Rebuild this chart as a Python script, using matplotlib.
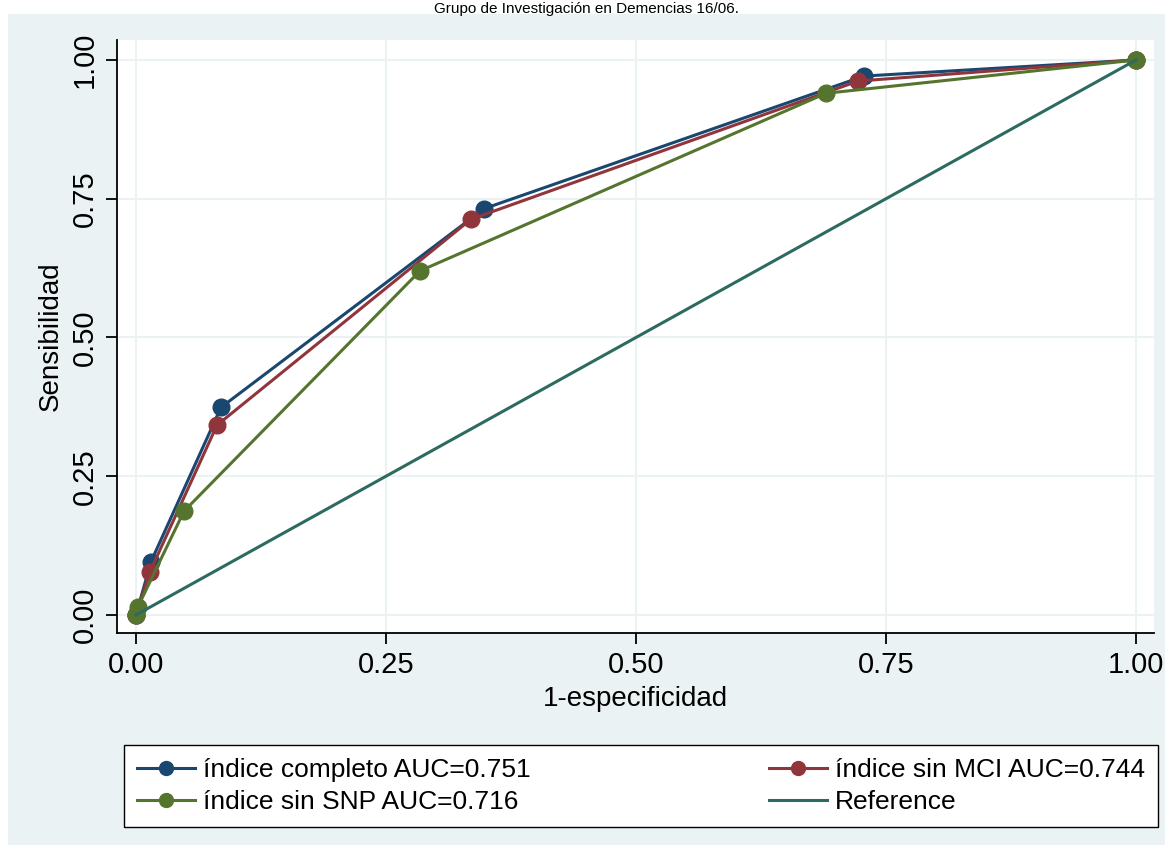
import matplotlib
matplotlib.use("Agg")
import matplotlib.pyplot as plt
from matplotlib.patches import Rectangle

plt.rcParams['font.family'] = ['Liberation Sans', 'DejaVu Sans']

# ROC points
completo_x = [0.0, 0.015, 0.085, 0.348, 0.728, 1.0]
completo_y = [0.0, 0.096, 0.374, 0.732, 0.971, 1.0]
sin_mci_x = [0.0, 0.014, 0.081, 0.335, 0.722, 1.0]
sin_mci_y = [0.0, 0.078, 0.342, 0.713, 0.962, 1.0]
sin_snp_x = [0.0, 0.002, 0.048, 0.284, 0.690, 1.0]
sin_snp_y = [0.0, 0.015, 0.187, 0.620, 0.940, 1.0]
ref_x = [0.0, 1.0]
ref_y = [0.0, 1.0]

labels = ['índice completo AUC=0.751', 'índice sin MCI AUC=0.744',
          'índice sin SNP AUC=0.716', 'Reference']
ticks = [0.0, 0.25, 0.5, 0.75, 1.0]
tick_labels = ['0.00', '0.25', '0.50', '0.75', '1.00']

navy = '#1a476f'
maroon = '#90353b'
green = '#55752f'
teal = '#2d6a5f'
bg = '#eaf2f3'

fig = plt.figure(figsize=(11.72, 8.6), dpi=100)
fig.patch.set_facecolor('white')
fig.patches.append(Rectangle((8 / 1172, 15 / 860), 1157 / 1172, 831 / 860,
                             transform=fig.transFigure, facecolor=bg,
                             edgecolor='none', zorder=-10))

fig.text(0.5, 1 - 2 / 860, 'Grupo de Investigación en Demencias 16/06.',
         ha='center', va='top', fontsize=11)

ax = fig.add_axes([117 / 1172, (860 - 633) / 860, (1154 - 117) / 1172, (633 - 40) / 860])
ax.set_facecolor('white')

lw = 2.2
ms = 12
ax.plot(completo_x, completo_y, color=navy, lw=lw, marker='o', ms=ms, zorder=3)
ax.plot(sin_mci_x, sin_mci_y, color=maroon, lw=lw, marker='o', ms=ms, zorder=4)
ax.plot(sin_snp_x, sin_snp_y, color=green, lw=lw, marker='o', ms=ms, zorder=5)
ax.plot(ref_x, ref_y, color=teal, lw=lw, zorder=6)

ax.set_xlim(-0.019, 1.018)
ax.set_ylim(-0.0325, 1.036)
ax.set_xticks(ticks)
ax.set_xticklabels(tick_labels)
ax.set_yticks(ticks)
ax.set_yticklabels(tick_labels, rotation=90, va='center')
ax.grid(True, color=bg, lw=1.5)
ax.set_axisbelow(True)
for s in ['top', 'right']:
    ax.spines[s].set_visible(False)
for s in ['left', 'bottom']:
    ax.spines[s].set_linewidth(1.3)
ax.tick_params(direction='out', length=8, width=1.3, labelsize=21, pad=5)
ax.set_xlabel('1-especificidad', fontsize=20, labelpad=5)
ax.set_ylabel('Sensibilidad', fontsize=20, labelpad=5)

leg_handles = [plt.Line2D([], [], color=navy, lw=lw, marker='o', ms=10),
               plt.Line2D([], [], color=green, lw=lw, marker='o', ms=10),
               plt.Line2D([], [], color=maroon, lw=lw, marker='o', ms=10),
               plt.Line2D([], [], color=teal, lw=lw)]
leg_labels = [labels[0], labels[2], labels[1], labels[3]]
leg = fig.legend(leg_handles, leg_labels, ncol=2, loc='lower left',
                 bbox_to_anchor=(124 / 1172, 33 / 860, 1034 / 1172, 97 / 860),
                 mode='expand', fancybox=False, edgecolor='black', framealpha=1,
                 fontsize=19, handlelength=2.2, numpoints=1, borderpad=0.5,
                 labelspacing=0.3, handletextpad=0.3, borderaxespad=0)
leg.get_frame().set_linewidth(1.0)

fig.savefig('out.png', dpi=100, facecolor='white')
